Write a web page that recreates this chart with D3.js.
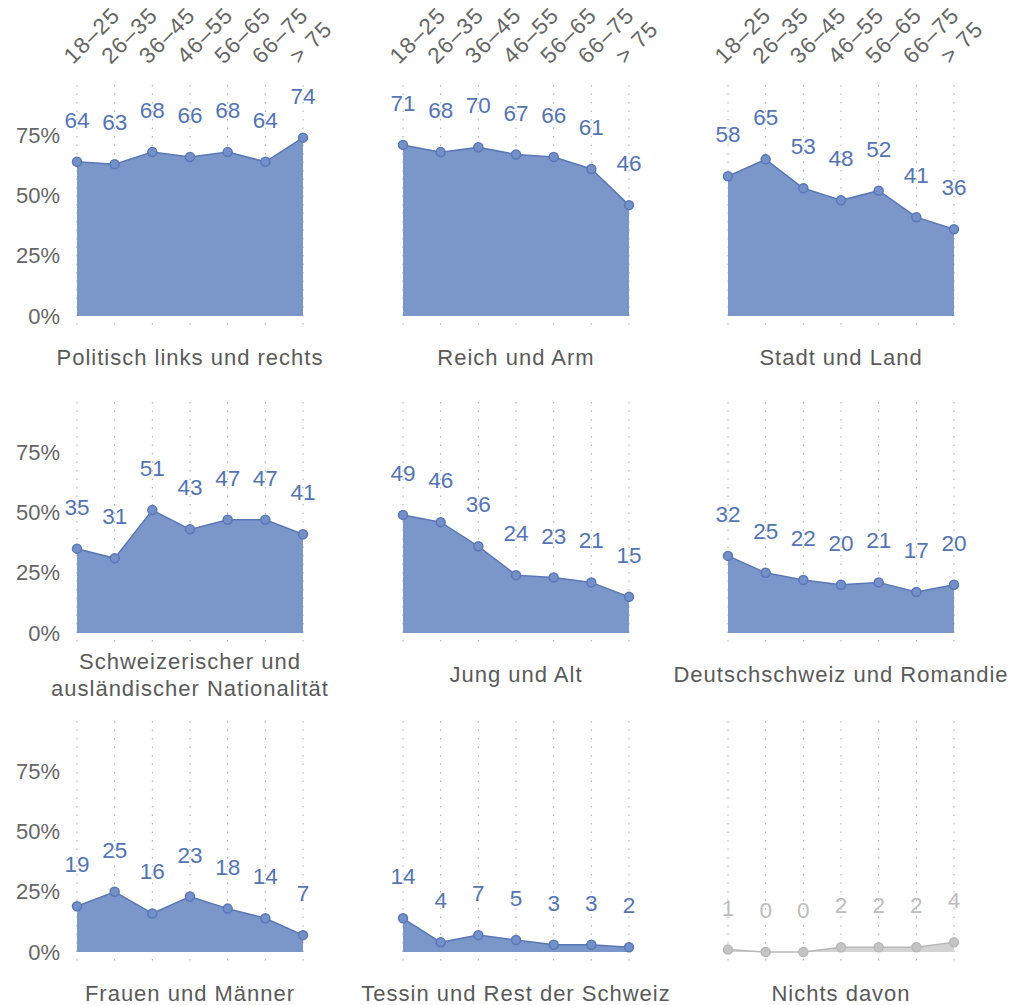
<!DOCTYPE html>
<html>
<head>
<meta charset="utf-8">
<script src="https://cdn.jsdelivr.net/npm/d3@7"></script>
<style>
  body { margin: 0; background: #fff; }
  svg text { font-family: "Liberation Sans", Arial, sans-serif; }
  .grid line { stroke: #aaa; stroke-dasharray: 1.5 7; stroke-width: 1; }
  .tick-top { fill: #666; font-size: 22.5px; letter-spacing: 1.2px; }
  .ylab { fill: #666; font-size: 22px; }
  .title { fill: #5a5a5a; font-size: 22px; letter-spacing: 1px; }
  .val { font-size: 22.5px; }
</style>
</head>
<body>
<div id="chart"></div>
<script>
// Altersgruppen
const ageGroups = ["18–25", "26–35", "36–45", "46–55", "56–65", "66–75", "> 75"];
const yTicks = [0, 25, 50, 75];

const panelTitles = [
    ["Politisch links und rechts"],
    ["Reich und Arm"],
    ["Stadt und Land"],
    ["Schweizerischer und", "ausländischer Nationalität"],
    ["Jung und Alt"],
    ["Deutschschweiz und Romandie"],
    ["Frauen und Männer"],
    ["Tessin und Rest der Schweiz"],
    ["Nichts davon"]
];

const linksRechts = [64, 63, 68, 66, 68, 64, 74];
const reichArm = [71, 68, 70, 67, 66, 61, 46];
const stadtLand = [58, 65, 53, 48, 52, 41, 36];
const nationalitaet = [35, 31, 51, 43, 47, 47, 41];
const jungAlt = [49, 46, 36, 24, 23, 21, 15];
const deutschRomandie = [32, 25, 22, 20, 21, 17, 20];
const frauenMaenner = [19, 25, 16, 23, 18, 14, 7];
const tessinRest = [14, 4, 7, 5, 3, 3, 2];
const nichtsDavon = [1, 0, 0, 2, 2, 2, 4];

const seriesList = [linksRechts, reichArm, stadtLand, nationalitaet, jungAlt,
    deutschRomandie, frauenMaenner, tessinRest, nichtsDavon];

const width = 1013, height = 1005;
const svg = d3.select("#chart").append("svg")
    .attr("width", width).attr("height", height);

const colLeft = [77, 403, 728];
const panelW = 226;
const rowZero = [316, 633, 952];
const panelH = 241; // 0..100%

seriesList.forEach((vals, i) => {
    const col = i % 3, row = Math.floor(i / 3);
    const grey = i === 8;
    const lineCol = grey ? "#b8b8b8" : "#5a78b8";
    const fillCol = grey ? "#d3d3d3" : "#7b96c8";
    const dotFill = grey ? "#c4c4c4" : "#7390c8";
    const txtCol = grey ? "#bdbdbd" : "#5474b6";

    const g = svg.append("g")
        .attr("transform", `translate(${colLeft[col]},${rowZero[row] - panelH})`);

    const x = d3.scalePoint().domain(ageGroups).range([0, panelW]);
    const y = d3.scaleLinear().domain([0, 100]).range([panelH, 0]);

    // vertikale Hilfslinien
    g.append("g").attr("class", "grid")
        .selectAll("line").data(ageGroups).join("line")
        .attr("x1", d => x(d)).attr("x2", d => x(d))
        .attr("y1", 10).attr("y2", panelH + 10);

    // Alterslabels nur oben in der ersten Reihe
    if (row === 0) {
        g.selectAll(".tick-top").data(ageGroups).join("text")
            .attr("class", "tick-top")
            .attr("transform", d => `translate(${x(d) - 4},${-10}) rotate(-45)`)
            .text(d => d);
    }

    // y-Achse nur links
    if (col === 0) {
        g.selectAll(".ylab").data(yTicks).join("text")
            .attr("class", "ylab")
            .attr("x", -17).attr("y", d => y(d))
            .attr("dy", "0.35em")
            .attr("text-anchor", "end")
            .text(d => d + "%");
    }

    const area = d3.area()
        .x((d, j) => x(ageGroups[j]))
        .y0(y(0)).y1(d => y(d));
    const line = d3.line()
        .x((d, j) => x(ageGroups[j]))
        .y(d => y(d));

    g.append("path").datum(vals)
        .attr("d", area).attr("fill", fillCol);
    g.append("path").datum(vals)
        .attr("d", line).attr("fill", "none")
        .attr("stroke", lineCol).attr("stroke-width", 1.5);

    g.selectAll(".dot").data(vals).join("circle")
        .attr("cx", (d, j) => x(ageGroups[j]))
        .attr("cy", d => y(d))
        .attr("r", 4.5)
        .attr("fill", dotFill)
        .attr("stroke", lineCol).attr("stroke-width", 1.5);

    g.selectAll(".val").data(vals).join("text")
        .attr("class", "val")
        .attr("x", (d, j) => x(ageGroups[j]))
        .attr("y", d => y(d) - 34)
        .attr("text-anchor", "middle")
        .attr("fill", txtCol)
        .text(d => d);

    // Titel
    const lines = panelTitles[i];
    const t = g.append("text").attr("class", "title")
        .attr("text-anchor", "middle");
    lines.forEach((l, k) => {
        t.append("tspan")
            .attr("x", panelW / 2)
            .attr("y", panelH + (lines.length > 1 ? 36 : 49) + k * 27)
            .text(l);
    });
});
</script>
</body>
</html>
